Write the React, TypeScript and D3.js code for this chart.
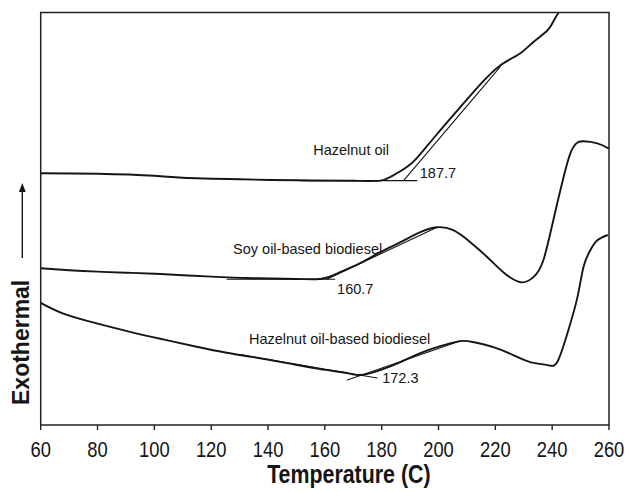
import React from "react";
import * as d3 from "d3";

// ---- data (heat flow in arbitrary units, temperature in °C) ----
const xTicks = [60, 80, 100, 120, 140, 160, 180, 200, 220, 240, 260];

const hazelnutOilT = [60, 80, 100, 110, 130, 150, 170, 179.5, 183, 186.6, 190.1, 193.5, 200.6, 207.6, 214.7, 221.7, 228.7, 233.3, 238.3, 240.6, 242.3];
const hazelnutOilV = [61.02, 60.9, 60.41, 59.93, 59.56, 59.32, 59.2, 59.25, 60.12, 61.5, 63.2, 65.62, 71.43, 77.0, 82.57, 87.17, 90.07, 92.81, 95.64, 98.06, 100.0];

const soyT = [60, 70, 80, 90, 100, 110, 120, 135, 150, 157, 160.8, 165.4, 172.4, 179.5, 186.6, 193.6, 199.5, 205.2, 211.2, 217.2, 222.8, 228.8, 233.4, 236.9, 240.4, 244, 246.4, 248.5, 251, 255.9, 259.8];
const soyV = [38.01, 37.53, 37.17, 36.92, 36.68, 36.32, 35.96, 35.59, 35.4, 35.35, 35.76, 37.05, 39.23, 41.89, 44.31, 46.73, 47.94, 47.22, 44.31, 40.68, 37.05, 34.62, 35.84, 39.95, 49.64, 60.05, 65.86, 68.28, 68.77, 68.28, 67.07];

const hazelBioT = [60, 68, 79.7, 91.4, 103.1, 114.9, 125.5, 134.8, 146.7, 158.3, 167.9, 172.4, 179.5, 186.6, 193.6, 200.6, 207.6, 212.2, 219.3, 226.3, 232.3, 238.3, 241.8, 245.4, 248.9, 251, 253.4, 255.9, 259.4];
const hazelBioV = [29.6, 27.0, 24.62, 22.59, 20.75, 18.96, 17.51, 16.46, 15.01, 13.56, 12.59, 12.11, 13.32, 15.25, 17.43, 19.13, 20.34, 20.1, 18.89, 16.95, 15.25, 14.53, 15.25, 22.28, 30.99, 38.26, 42.37, 44.79, 46.0];

// tangent construction lines: [T1, V1, T2, V2]
const tangentLines = [
  [151.3, 59.25, 192.4, 59.25],
  [187.7, 59.25, 221.7, 86.8],
  [125.6, 35.35, 163.5, 35.35],
  [160.7, 35.35, 199.5, 47.94],
  [130.2, 17.07, 178.4, 11.38],
  [167.9, 10.9, 207.6, 20.34],
];

const labelTexts = ["Hazelnut oil", "187.7", "Soy oil-based biodiesel", "160.7", "Hazelnut oil-based biodiesel", "172.3"];
const labelT = [155.9, 193.4, 127.7, 164.3, 133.3, 180.2];
const labelV = [65.4, 59.8, 41.4, 31.7, 19.6, 10.2];

const W = 629;
const H = 492;
const M = { left: 40.7, right: 20, top: 12.5, bottom: 67 };
const FONT = "'Liberation Sans', Arial, Helvetica, sans-serif";
const INK = "#151515";

export default function App() {
  const x = d3.scaleLinear().domain([60, 260]).range([M.left, W - M.right]);
  const y = d3.scaleLinear().domain([0, 100]).range([H - M.bottom, M.top]);

  const line = d3
    .line<[number, number]>()
    .x((d) => x(d[0]))
    .y((d) => y(d[1]))
    .curve(d3.curveNatural);

  const series = [
    d3.zip(hazelnutOilT, hazelnutOilV) as [number, number][],
    d3.zip(soyT, soyV) as [number, number][],
    d3.zip(hazelBioT, hazelBioV) as [number, number][],
  ];

  const x0 = x.range()[0];
  const x1 = x.range()[1];
  const yb = y.range()[0];
  const yt = y.range()[1];

  return (
    <div style={{ position: "absolute", left: 0, top: 0 }}>
      <svg width={W} height={H} style={{ display: "block", background: "#fff" }}>
        <defs>
          <clipPath id="plot">
            <rect x={x0} y={yt} width={x1 - x0} height={yb - yt} />
          </clipPath>
        </defs>

        {/* curves */}
        <g clipPath="url(#plot)" fill="none" stroke={INK} strokeLinejoin="round" strokeLinecap="round">
          {series.map((s, i) => (
            <path key={i} d={line(s) || ""} strokeWidth={1.9} />
          ))}
          {tangentLines.map((t, i) => (
            <line key={i} x1={x(t[0])} y1={y(t[1])} x2={x(t[2])} y2={y(t[3])} strokeWidth={1.1} />
          ))}
        </g>

        {/* annotations */}
        {labelTexts.map((t, i) => (
          <text key={i} x={x(labelT[i])} y={y(labelV[i])} fontFamily={FONT} fontSize={14.5} fill={INK}>
            {t}
          </text>
        ))}

        {/* frame */}
        <rect x={x0} y={yt} width={x1 - x0} height={yb - yt} fill="none" stroke="#222" strokeWidth={1.5} />

        {/* x ticks */}
        {xTicks.map((t) => (
          <g key={t}>
            <line x1={x(t)} x2={x(t)} y1={yb} y2={yb + 5} stroke="#222" strokeWidth={1.4} />
            <text
              transform={`translate(${x(t)},${yb + 32}) scale(0.835,1)`}
              textAnchor="middle"
              fontFamily={FONT}
              fontSize={22}
              fill={INK}
            >
              {t}
            </text>
          </g>
        ))}

        {/* x title */}
        <text
          transform={`translate(${(x0 + x1) / 2 + 24},${H - 9}) scale(0.855,1)`}
          textAnchor="middle"
          fontFamily={FONT}
          fontSize={25}
          fontWeight="bold"
          fill={INK}
        >
          Temperature (C)
        </text>

        {/* y title with arrow */}
        <text
          transform={`translate(28.5,405) rotate(-90)`}
          fontFamily={FONT}
          fontSize={23}
          fontWeight="bold"
          fill={INK}
        >
          Exothermal
        </text>
        <line x1={22.3} x2={22.3} y1={258} y2={190} stroke={INK} strokeWidth={1.4} />
        <path d="M22.3,183 L18.9,192 L25.7,192 Z" fill={INK} />
      </svg>
    </div>
  );
}
